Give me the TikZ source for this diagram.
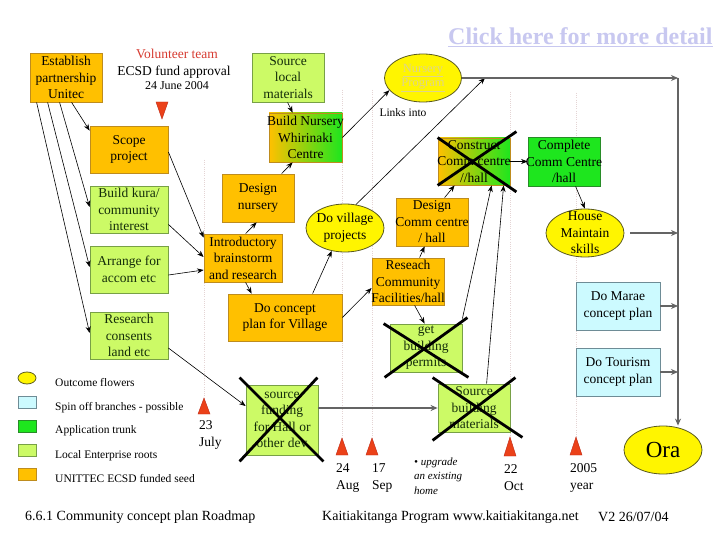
\documentclass[tikz,border=0pt]{standalone}
\usepackage{fontspec}
\setmainfont{Liberation Serif}
\usetikzlibrary{arrows.meta,shapes.geometric,calc}
\definecolor{orF}{RGB}{255,192,0}
\definecolor{orD}{RGB}{190,140,30}
\definecolor{lgF}{RGB}{204,250,102}
\definecolor{lgD}{RGB}{120,160,70}
\definecolor{gF}{RGB}{30,230,30}
\definecolor{gD}{RGB}{40,140,40}
\definecolor{cyF}{RGB}{204,250,255}
\definecolor{cyD}{RGB}{110,140,150}
\definecolor{yF}{RGB}{255,245,0}
\definecolor{yD}{RGB}{90,90,30}
\definecolor{redT}{RGB}{235,65,25}
\definecolor{redD}{RGB}{190,40,20}
\definecolor{linkC}{RGB}{200,200,240}
\definecolor{nurC}{RGB}{222,212,140}
\definecolor{dotC}{RGB}{228,212,212}
\definecolor{lgT}{RGB}{20,45,10}
\definecolor{volC}{RGB}{215,60,50}
\definecolor{grayL}{RGB}{100,100,100}
\newcommand\bxf{\fontsize{13.5}{16.5}\selectfont}
\newcommand\lgf{\fontsize{11.5}{14}\selectfont}
\begin{document}
\begin{tikzpicture}[x=1pt,y=-1pt,
  box/.style={rectangle, inner sep=0pt, line width=0.8pt},
  obox/.style={box, fill=orF, draw=orD},
  lbox/.style={box, fill=lgF, draw=lgD},
  gbox/.style={box, fill=gF, draw=gD},
  cbox/.style={box, fill=cyF, draw=cyD},
  gradbox/.style={box, left color=orF, right color=gF, draw=orD},
  flower/.style={ellipse, inner sep=0pt, fill=yF, draw=yD, line width=0.8pt, minimum width=78pt, minimum height=48pt},
  txt/.style={inner sep=0pt, align=center, font=\bxf},
  ltxt/.style={txt, text=lgT},
  arr/.style={-{Stealth[length=6.5pt,width=5pt]}, line width=0.6pt, black},
  garr/.style={-{Stealth[length=7pt,width=6pt]}, line width=1.4pt, draw=grayL, fill=grayL},
  cross/.style={line width=2.8pt, black},
  tline/.style={dotC, line width=0.9pt, dash pattern=on 1pt off 1.2pt},
  redtri/.style={fill=redT, draw=redD, line width=0.4pt},
  lbl/.style={anchor=west, inner sep=0pt, font=\lgf},
  tlab/.style={anchor=west, inner sep=0pt, align=left, font=\fontsize{13.5}{17}\selectfont},
  foot/.style={anchor=west, inner sep=0pt, font=\fontsize{14}{16}\selectfont}
]
\useasboundingbox[fill=white] (0,0) rectangle (720,540);

% timeline dotted lines
\draw[tline] (204,160) -- (204,398);
\draw[tline] (342,90) -- (342,438);
\draw[tline] (372,90) -- (372,438);
\draw[tline] (510,92) -- (510,437);
\draw[tline] (576,93) -- (576,437);

% markers
\filldraw[redtri] (156,102) -- (168,102) -- (162,119) -- cycle;
\filldraw[redtri] (198,414) -- (204,398) -- (210,414) -- cycle;
\filldraw[redtri] (336,455) -- (342,438) -- (348,455) -- cycle;
\filldraw[redtri] (366,455) -- (372,438) -- (378,455) -- cycle;
\filldraw[redtri] (504,456) -- (510,437) -- (516,456) -- cycle;
\filldraw[redtri] (570,455) -- (576,437) -- (582,455) -- cycle;

% header texts
\node[inner sep=0pt, font=\bxf, text=volC] (vol) at (177,54) {Volunteer team};
\node[inner sep=0pt, font=\bxf] (ecsd) at (174,72) {ECSD fund approval};
\node[inner sep=0pt, font=\fontsize{12}{14}\selectfont] (june) at (177,86) {24 June 2004};
\node[anchor=west, inner sep=0pt, font=\fontsize{24}{28}\selectfont\bfseries, text=linkC] (click) at (448,37) {\underline{Click here for more detail}};
\node[inner sep=0pt, font=\lgf] (links) at (403,113) {Links into};

% boxes
\node[obox, minimum width=72pt, minimum height=49pt] (est) at (66,77.5) {};
\node[txt] (estT) at (est.center) {Establish\\partnership\\Unitec};
\node[obox, minimum width=78pt, minimum height=47pt] (scope) at (129,149.5) {};
\node[txt] (scopeT) at (scope.center) {Scope\\project};
\node[lbox, minimum width=78pt, minimum height=47pt] (kura) at (129,209.5) {};
\node[ltxt] (kuraT) at (kura.center) {Build kura/\\community\\interest};
\node[lbox, minimum width=78pt, minimum height=47pt] (arrange) at (129,269.5) {};
\node[ltxt] (arrangeT) at (arrange.center) {Arrange for\\accom etc};
\node[lbox, minimum width=78pt, minimum height=47pt] (research) at (129,335.5) {};
\node[ltxt] (researchT) at (research.center) {Research\\consents\\land etc};

\node[lbox, minimum width=72pt, minimum height=49pt] (srclocal) at (288,77.5) {};
\node[ltxt] (srclocalT) at (srclocal.center) {Source\\local\\materials};
\node[gradbox, minimum width=73pt, minimum height=49pt] (buildnur) at (305.5,137.5) {};
\node[txt] (buildnurT) at (buildnur.center) {Build Nursery\\Whirinaki\\Centre};
\node[flower, minimum width=77pt] (nursprog) at (423,78) {};
\node[txt, font=\fontsize{12.5}{14.5}\selectfont, text=nurC] (nursprogT) at (nursprog.center) {\underline{Nursery}\\\underline{Program}};
\node[obox, minimum width=72pt, minimum height=48pt] (designnur) at (258,198) {};
\node[txt] (designnurT) at (designnur.center) {Design\\nursery};
\node[obox, minimum width=78pt, minimum height=48pt] (intro) at (243,258) {};
\node[txt] (introT) at (intro.center) {Introductory\\brainstorm\\and research};
\node[flower] (village) at (345,228) {};
\node[txt] (villageT) at (village.center) {Do village\\projects};
\node[obox, minimum width=72pt, minimum height=48pt] (designcomm) at (432,222) {};
\node[txt] (designcommT) at (designcomm.center) {Design\\Comm centre\\/ hall};
\node[obox, minimum width=72pt, minimum height=47pt] (reseach) at (408,281.5) {};
\node[txt] (reseachT) at (reseach.center) {Reseach\\Community\\Facilities/hall};
\node[obox, minimum width=114pt, minimum height=47pt] (concept) at (285,317.5) {};
\node[txt] (conceptT) at (concept.center) {Do concept\\plan for Village};
\node[lbox, minimum width=72pt, minimum height=48pt] (permits) at (426,348) {};
\node[ltxt] (permitsT) at (permits.center) {get\\building\\permits};
\node[lbox, minimum width=72pt, minimum height=48pt] (srcbuild) at (474,408) {};
\node[ltxt] (srcbuildT) at (srcbuild.center) {Source\\building\\materials};
\node[gradbox, minimum width=72pt, minimum height=47pt] (construct) at (474,161.5) {};
\node[txt] (constructT) at (construct.center) {Construct\\Comm centre\\//hall};
\node[gbox, minimum width=72pt, minimum height=49pt] (complete) at (564,161.5) {};
\node[txt] (completeT) at (complete.center) {Complete\\Comm Centre\\/hall};
\node[flower] (house) at (585,233) {};
\node[txt] (houseT) at (house.center) {House\\Maintain\\skills};
\node[cbox, minimum width=84pt, minimum height=48pt] (marae) at (618,306) {};
\node[txt] (maraeT) at (marae.center) {Do Marae\\concept plan};
\node[cbox, minimum width=84pt, minimum height=48pt] (tourism) at (618,372) {};
\node[txt] (tourismT) at (tourism.center) {Do Tourism\\concept plan};
\node[flower] (ora) at (663,450) {};
\node[txt, font=\fontsize{23}{26}\selectfont] (oraT) at (ora.center) {Ora};
\node[lbox, minimum width=72pt, minimum height=70pt] (funding) at (282,420) {};
\node[ltxt] (fundingT) at (funding.center) {source\\funding\\for Hall or\\other dev};

% coordinates on the trunk line
\coordinate (joint) at (485,78);
\coordinate (vtop) at (678,78);
\coordinate (hM) at (678,233);
\coordinate (hMa) at (678,306);
\coordinate (hT) at (678,372);

% connectors
\draw[arr] ([xshift=42pt]est.south west) -- ([yshift=-5pt]scope.north west);
\draw[arr] ([xshift=30pt]est.south west) -- ([yshift=2.5pt]kura.west);
\draw[arr] ([xshift=18pt]est.south west) -- ([yshift=2.5pt]arrange.west);
\draw[arr] ([xshift=7pt]est.south west) -- ([yshift=2.5pt]research.west);
\draw[arr] ([yshift=-2.5pt]scope.east) -- ([yshift=-4pt]intro.north west);
\draw[arr] ([yshift=9pt]kura.south east) -- ([yshift=1pt]intro.west);
\draw[arr] ([yshift=-5.5pt]arrange.east) -- ([yshift=-12pt]intro.west);
\draw[arr] ([xshift=42pt]intro.north west) -- ([xshift=35pt]designnur.south west);
\draw[arr] ([xshift=60pt]designnur.north west) -- ([xshift=24pt]buildnur.south west);
\draw[arr] ([xshift=36pt]srclocal.south west) -- ([xshift=24pt]buildnur.north west);
\draw[arr] (buildnur.east) -- (nursprog.200);
\draw[arr] ([xshift=42pt]intro.south west) -- ([xshift=24pt]concept.north west);
\draw[arr] ([xshift=85pt]concept.north west) -- (village.240);
\draw[arr] (village.65) -- (joint);
\draw[arr] (concept.east) -- ([yshift=-6.5pt]reseach.west);
\draw[arr] ([xshift=48pt]reseach.north west) -- ([xshift=29pt]designcomm.south west);
\draw[arr] ([xshift=49pt]designcomm.north west) -- ([xshift=17pt]construct.south west);
\draw[arr] ([xshift=43pt]reseach.south west) -- ([xshift=35pt]permits.north west);
\draw[arr] ([yshift=5pt]permits.north east) -- ([xshift=54pt]construct.south west);
\draw[arr] ([xshift=49pt]srcbuild.north west) -- ([xshift=66pt]construct.south west);
\draw[arr] (construct.east) -- (complete.west);
\draw[arr] ([xshift=48pt]complete.south west) -- (house.north);
\draw[arr] ([yshift=-12.5pt]research.east) -- ([yshift=14pt]funding.west);

\draw[garr] (nursprog.east) -- (vtop);
\draw[garr] (vtop) -- (vtop |- ora.north);
\draw[garr] ([xshift=6pt]house.east) -- (hM);
\draw[garr] (marae.east) -- (hMa);
\draw[garr] (tourism.east) -- (hT);
\draw[garr] ([yshift=12pt]funding.east) -- (srcbuild.west);

% crosses
\draw[cross] (construct.south west) -- ([shift={(6pt,6pt)}]construct.north east);
\draw[cross] (construct.north west) -- ([shift={(6pt,-6.5pt)}]construct.south east);
\draw[cross] ([xshift=-6pt]permits.north west) -- ([shift={(6pt,-5pt)}]permits.south east);
\draw[cross] ([shift={(-5pt,-5pt)}]permits.south west) -- ([shift={(5pt,6pt)}]permits.north east);
\draw[cross] ([shift={(-5pt,6pt)}]srcbuild.north west) -- ([shift={(12pt,-5pt)}]srcbuild.south east);
\draw[cross] ([shift={(5pt,6pt)}]srcbuild.north east) -- ([shift={(-5pt,-8pt)}]srcbuild.south west);
\draw[cross] ([shift={(-6pt,7pt)}]funding.north west) -- ([shift={(5pt,-6pt)}]funding.south east);
\draw[cross] ([shift={(-1pt,7pt)}]funding.north east) -- ([shift={(-6pt,-6pt)}]funding.south west);

% timeline labels
\node[tlab] (d23) at (199,435) {23\\July};
\node[tlab] (d24) at (336,478) {24\\Aug};
\node[tlab] (d17) at (372,478) {17\\Sep};
\node[tlab] (d22) at (504,478) {22\\Oct};
\node[tlab] (d05) at (570,478) {2005\\year};
\node[anchor=west, inner sep=0pt, align=left, font=\fontsize{11}{14.5}\selectfont\itshape] (upg) at (414,476) {\textbullet\ upgrade\\an existing\\home};

% legend
\node[flower, minimum width=18pt, minimum height=12pt] (lgE) at (27,378) {};
\node[cbox, minimum width=18pt, minimum height=12pt] (lgC) at (27,402) {};
\node[gbox, minimum width=18pt, minimum height=12pt] (lgG) at (27,426) {};
\node[lbox, minimum width=18pt, minimum height=12pt] (lgL) at (27,450) {};
\node[obox, minimum width=18pt, minimum height=12pt] (lgO) at (27,474) {};
\node[lbl] (lgET) at (55,383) {Outcome flowers};
\node[lbl] (lgCT) at (55,408) {Spin off branches - possible};
\node[lbl] (lgGT) at (55,431) {Application trunk};
\node[lbl] (lgLT) at (55,456) {Local Enterprise roots};
\node[lbl] (lgOT) at (55,479) {UNITTEC ECSD funded seed};

% footer
\node[foot] (foot1) at (25,517) {6.6.1 Community concept plan Roadmap};
\node[foot] (foot2) at (322,517) {Kaitiakitanga Program www.kaitiakitanga.net};
\node[foot] (foot3) at (598,517) {V2 26/07/04};
\end{tikzpicture}
\end{document}
